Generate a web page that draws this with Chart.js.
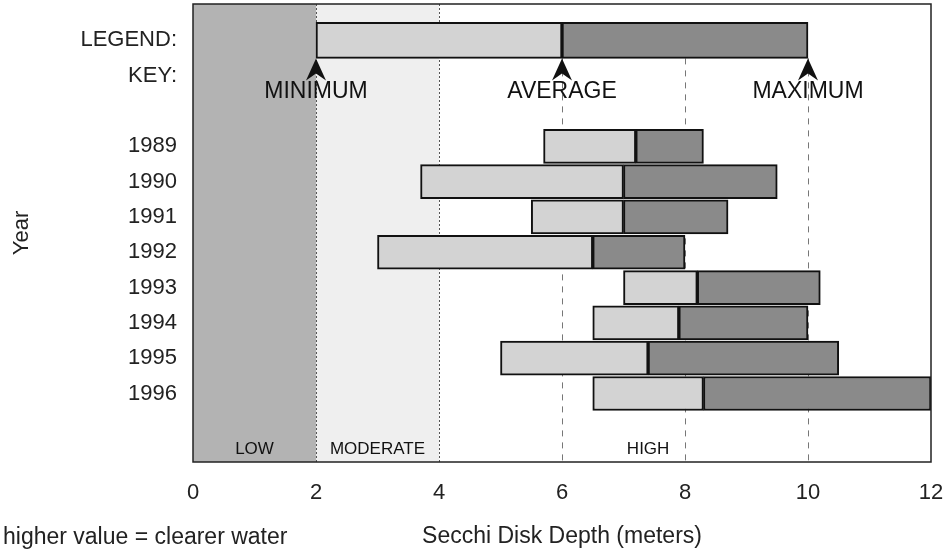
<!DOCTYPE html>
<html>
<head>
<meta charset="utf-8">
<script src="https://cdn.jsdelivr.net/npm/chart.js@4.4.1/dist/chart.umd.min.js"></script>
<style>
html, body { margin: 0; padding: 0; background: #fff; }
</style>
</head>
<body>
<canvas id="chart" width="951" height="559"></canvas>
<script>
// rows of the y axis, top to bottom
var rowLabels = ['LEGEND:', 'KEY:', '', '1989', '1990', '1991', '1992', '1993', '1994', '1995', '1996', ''];
var years = ['1989', '1990', '1991', '1992', '1993', '1994', '1995', '1996'];
var yearRow0 = 3; // first year sits on row 3

// Secchi disk depth in meters
var minDepth = [5.7, 3.7, 5.5, 3.0, 7.0, 6.5, 5.0, 6.5];
var avgDepth = [7.2, 7.0, 7.0, 6.5, 8.2, 7.9, 7.4, 8.3];
var maxDepth = [8.3, 9.5, 8.7, 8.0, 10.2, 10.0, 10.5, 12.0];

// x axis ticks
var xTicks = [0, 2, 4, 6, 8, 10, 12];

// legend / key bar
var keyValues = [2, 6, 10];
var keyNames = ['MINIMUM', 'AVERAGE', 'MAXIMUM'];

// clarity zones
var zoneEdges = [0, 2, 4, 12];
var zoneNames = ['LOW', 'MODERATE', 'HIGH'];
var zoneLabelAt = [1, 3, 7.4];
var guideLines = [6, 8, 10];

var FONT = '"Liberation Sans", Arial, Helvetica, sans-serif';
var lightFill = '#d3d3d3';
var darkFill = '#8a8a8a';
var edge = '#111';

function rows(lo, hi) {
    var out = [];
    for (var i = 0; i < years.length; i++) {
        out.push({ y: yearRow0 + i, x: [lo[i], hi[i]] });
    }
    return out;
}

// background zones, guide lines, frame and the loose texts
var decorations = {
    id: 'decorations',
    beforeDatasetsDraw: function(chart) {
        var ctx = chart.ctx;
        var a = chart.chartArea;
        var xs = chart.scales.x;
        var ys = chart.scales.y;
        var legendBottom = ys.getPixelForValue(0) + 18;
        ctx.save();
        // LOW zone
        ctx.fillStyle = '#b3b3b3';
        ctx.fillRect(xs.getPixelForValue(zoneEdges[0]), a.top,
            xs.getPixelForValue(zoneEdges[1]) - xs.getPixelForValue(zoneEdges[0]), a.bottom - a.top);
        // MODERATE zone
        ctx.fillStyle = '#efefef';
        ctx.fillRect(xs.getPixelForValue(zoneEdges[1]), a.top,
            xs.getPixelForValue(zoneEdges[2]) - xs.getPixelForValue(zoneEdges[1]), a.bottom - a.top);
        // zone borders
        ctx.strokeStyle = '#555';
        ctx.lineWidth = 1;
        ctx.setLineDash([2, 2]);
        [zoneEdges[1], zoneEdges[2]].forEach(function(v) {
            var px = Math.round(xs.getPixelForValue(v)) + 0.5;
            ctx.beginPath();
            ctx.moveTo(px, a.top);
            ctx.lineTo(px, a.bottom);
            ctx.stroke();
        });
        // dashed guides
        ctx.strokeStyle = '#777';
        ctx.setLineDash([6, 6]);
        guideLines.forEach(function(v) {
            var px = Math.round(xs.getPixelForValue(v)) + 0.5;
            ctx.beginPath();
            ctx.moveTo(px, legendBottom);
            ctx.lineTo(px, a.bottom);
            ctx.stroke();
        });
        ctx.restore();
    },
    afterDatasetsDraw: function(chart) {
        var ctx = chart.ctx;
        var a = chart.chartArea;
        var xs = chart.scales.x;
        var ys = chart.scales.y;
        var legendBottom = ys.getPixelForValue(0) + 18;
        ctx.save();
        // arrows and key names
        ctx.fillStyle = '#111';
        ctx.textAlign = 'center';
        ctx.textBaseline = 'middle';
        ctx.font = '23px ' + FONT;
        keyValues.forEach(function(v, i) {
            var px = xs.getPixelForValue(v);
            var t = legendBottom;
            ctx.beginPath();
            ctx.moveTo(px, t);
            ctx.lineTo(px - 10, t + 22);
            ctx.lineTo(px, t + 15);
            ctx.lineTo(px + 10, t + 22);
            ctx.closePath();
            ctx.fill();
            ctx.fillText(keyNames[i], px, ys.getPixelForValue(1) + 16);
        });
        // zone names along the bottom
        ctx.font = '17px ' + FONT;
        zoneNames.forEach(function(n, i) {
            ctx.fillText(n, xs.getPixelForValue(zoneLabelAt[i]), a.bottom - 13);
        });
        // note in the lower left corner
        ctx.font = '23px ' + FONT;
        ctx.textAlign = 'left';
        ctx.fillStyle = '#222';
        ctx.fillText('higher value = clearer water', 3, 538);
        // frame
        ctx.strokeStyle = '#222';
        ctx.lineWidth = 1.5;
        ctx.strokeRect(a.left, a.top, a.right - a.left, a.bottom - a.top);
        ctx.restore();
    }
};

var ctx = document.getElementById('chart').getContext('2d');
var chart = new Chart(ctx, {
    type: 'bar',
    data: {
        datasets: [
            {
                label: 'legend low',
                data: [{ y: 0, x: [keyValues[0], keyValues[1]] }],
                backgroundColor: lightFill,
                barThickness: 36
            },
            {
                label: 'legend high',
                data: [{ y: 0, x: [keyValues[1], keyValues[2]] }],
                backgroundColor: darkFill,
                barThickness: 36
            },
            {
                label: 'minimum to average',
                data: rows(minDepth, avgDepth),
                backgroundColor: lightFill,
                barThickness: 34
            },
            {
                label: 'average to maximum',
                data: rows(avgDepth, maxDepth),
                backgroundColor: darkFill,
                barThickness: 34
            }
        ]
    },
    options: {
        indexAxis: 'y',
        responsive: false,
        animation: false,
        datasets: {
            bar: {
                grouped: false,
                borderColor: edge,
                borderWidth: 2,
                borderSkipped: false
            }
        },
        layout: { padding: { top: 4, right: 20, left: 0, bottom: 0 } },
        scales: {
            x: {
                type: 'linear',
                min: 0,
                max: 12,
                grid: { display: false, drawTicks: false },
                border: { display: false },
                ticks: {
                    stepSize: 2,
                    padding: 18,
                    color: '#222',
                    font: { family: FONT, size: 22 }
                },
                afterBuildTicks: function(scale) {
                    scale.ticks = xTicks.map(function(v) { return { value: v }; });
                },
                title: {
                    display: true,
                    text: 'Secchi Disk Depth (meters)',
                    color: '#222',
                    font: { family: FONT, size: 23 },
                    padding: { top: 0, bottom: 9 }
                },
                afterFit: function(scale) {
                    scale.height = 97;
                    scale.paddingLeft = 0;
                    scale.paddingRight = 0;
                }
            },
            y: {
                type: 'linear',
                reverse: true,
                min: -0.49,
                max: 11.4,
                grid: { display: false, drawTicks: false },
                border: { display: false },
                ticks: {
                    padding: 16,
                    color: '#222',
                    font: { family: FONT, size: 22 },
                    callback: function(v) { return rowLabels[v]; }
                },
                afterBuildTicks: function(scale) {
                    scale.ticks = rowLabels.map(function(l, i) { return { value: i }; });
                },
                title: {
                    display: true,
                    text: 'Year',
                    color: '#222',
                    font: { family: FONT, size: 22 },
                    padding: { top: 9, bottom: 0 }
                },
                afterFit: function(scale) {
                    scale.width = 193;
                    scale.paddingTop = 0;
                    scale.paddingBottom = 0;
                }
            }
        },
        plugins: {
            legend: { display: false },
            tooltip: { enabled: false }
        }
    },
    plugins: [decorations]
});
</script>
</body>
</html>
